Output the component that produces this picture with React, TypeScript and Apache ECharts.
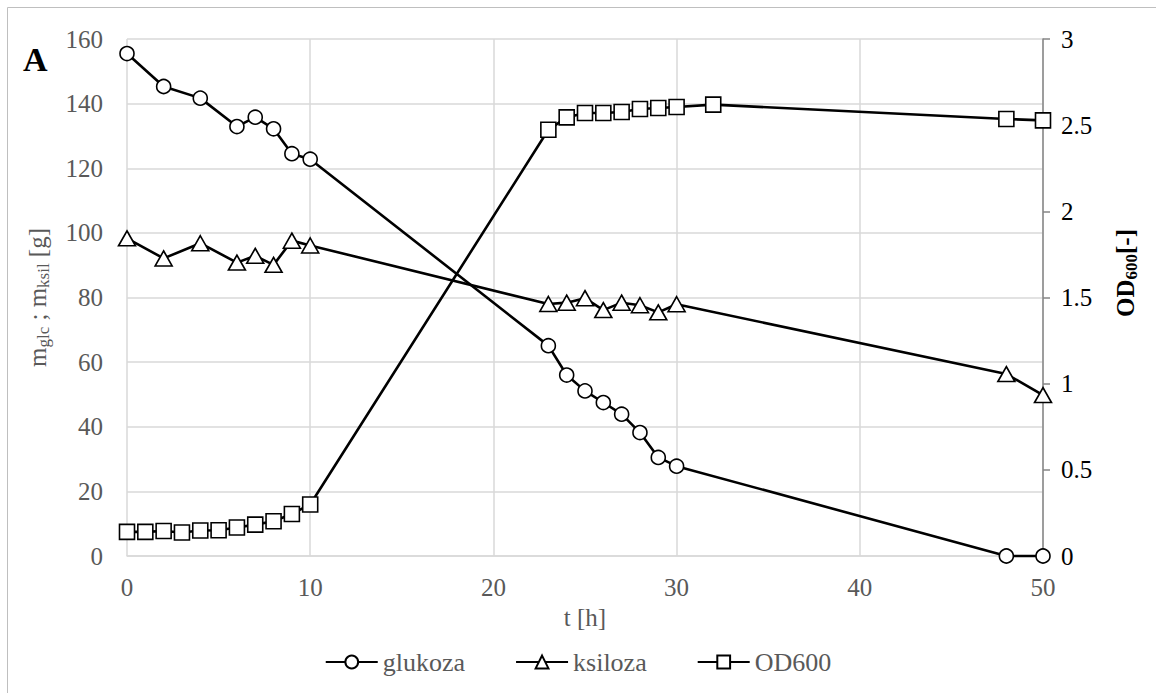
import React, { useEffect, useRef } from "react";
import * as echarts from "echarts";

const tSugar = [0, 2, 4, 6, 7, 8, 9, 10, 23, 24, 25, 26, 27, 28, 29, 30, 48, 50];
const glukoza = [155.5, 145.3, 141.7, 132.9, 135.8, 132.2, 124.5, 122.8, 65.1, 56.0, 51.1, 47.5, 43.9, 38.2, 30.5, 27.8, 0, 0];
const ksiloza = [98.3, 92.1, 96.8, 90.8, 92.9, 90.1, 97.6, 96.1, 78.0, 78.4, 79.8, 76.1, 78.4, 77.6, 75.4, 77.9, 56.3, 49.8];
const tOD = [0, 1, 2, 3, 4, 5, 6, 7, 8, 9, 10, 23, 24, 25, 26, 27, 28, 29, 30, 32, 48, 50];
const od600 = [0.14, 0.14, 0.145, 0.136, 0.148, 0.149, 0.165, 0.182, 0.202, 0.244, 0.299, 2.473, 2.545, 2.571, 2.571, 2.576, 2.594, 2.6, 2.605, 2.619, 2.536, 2.528];
const seriesNames = ["glukoza", "ksiloza", "OD600"];

const FONT = "'Liberation Serif', 'Times New Roman', serif";
const GRAY = "#595959";
const FS = 25;

export default function App() {
  const ref = useRef<HTMLDivElement>(null);
  useEffect(() => {
    if (!ref.current) return;
    const chart = echarts.init(ref.current, null, { renderer: "svg" });
    const pair = (xs: number[], ys: number[]) => xs.map((x, i) => [x, ys[i]]);
    const common = {
      type: "line",
      clip: false,
      lineStyle: { color: "#000", width: 2.6 },
      itemStyle: { color: "#fff", borderColor: "#000", borderWidth: 1.6 },
      emphasis: { disabled: true },
    };
    chart.setOption({
      animation: false,
      backgroundColor: "#fff",
      textStyle: { fontFamily: FONT },
      grid: { left: 127, right: 113, top: 39, bottom: 137, containLabel: false },
      legend: {
        top: 644,
        left: "center",
        itemWidth: 52,
        itemHeight: 16,
        itemGap: 50,
        textStyle: { color: GRAY, fontSize: 26, fontFamily: FONT },
        data: seriesNames,
      },
      xAxis: {
        type: "value",
        min: 0,
        max: 50,
        interval: 10,
        axisLine: { show: true, lineStyle: { color: "#d9d9d9", width: 1.5 } },
        axisTick: { show: false },
        splitLine: { show: true, lineStyle: { color: "#d9d9d9", width: 1.5 } },
        axisLabel: { color: GRAY, fontSize: FS, fontFamily: FONT, margin: 19 },
        name: "t [h]",
        nameLocation: "middle",
        nameGap: 34,
        nameTextStyle: { color: GRAY, fontSize: FS, fontFamily: FONT },
      },
      yAxis: [
        {
          type: "value",
          min: 0,
          max: 160,
          interval: 20,
          axisLine: { show: false },
          axisTick: { show: false },
          splitLine: { show: true, lineStyle: { color: "#d9d9d9", width: 1.5 } },
          axisLabel: { color: GRAY, fontSize: FS, fontFamily: FONT, margin: 24 },
          name: "{a|m}{s|glc}{a| ; m}{s|ksil}{a| [g]}",
          nameLocation: "middle",
          nameGap: 75,
          nameTextStyle: {
            color: GRAY,
            fontFamily: FONT,
            rich: {
              a: { fontSize: FS, lineHeight: 30, color: GRAY, fontFamily: FONT },
              s: { fontSize: 17, lineHeight: 17, verticalAlign: "bottom", color: GRAY, fontFamily: FONT },
            },
          },
        },
        {
          type: "value",
          position: "right",
          min: 0,
          max: 3,
          interval: 0.5,
          axisLine: { show: true, lineStyle: { color: "#868686", width: 1.5 } },
          axisTick: { show: true, inside: false, length: 7, lineStyle: { color: "#868686", width: 1.5 } },
          splitLine: { show: false },
          axisLabel: { color: "#000", fontSize: FS, fontFamily: FONT, margin: 18 },
        },
      ],
      graphic: [
        {
          type: "rect",
          shape: { x: 7.5, y: 7.5, width: 1300, height: 900 },
          style: { fill: "none", stroke: "#bfbfbf", lineWidth: 1 },
          silent: true,
        },
        {
          type: "text",
          left: 23,
          top: 42,
          style: { text: "A", font: `bold 34px ${FONT}`, fill: "#000" },
        },
        {
          type: "text",
          x: 1125,
          y: 273,
          rotation: Math.PI / 2,
          style: {
            text: "{a|OD}{s|600}{a|[-]}",
            align: "center",
            verticalAlign: "middle",
            fill: "#000",
            rich: {
              a: { fontSize: FS, lineHeight: 30, fontWeight: "bold", fill: "#000", fontFamily: FONT },
              s: { fontSize: 17, lineHeight: 17, verticalAlign: "bottom", fontWeight: "bold", fill: "#000", fontFamily: FONT },
            },
          },
        },
      ],
      series: [
        { ...common, name: seriesNames[0], yAxisIndex: 0, symbol: "circle", symbolSize: 14, data: pair(tSugar, glukoza) },
        { ...common, name: seriesNames[1], yAxisIndex: 0, symbol: "triangle", symbolSize: [17, 15], data: pair(tSugar, ksiloza) },
        { ...common, name: seriesNames[2], yAxisIndex: 1, symbol: "rect", symbolSize: 15, data: pair(tOD, od600) },
      ],
    });
    return () => chart.dispose();
  }, []);
  return <div ref={ref} style={{ position: "fixed", left: 0, top: 0, width: 1156, height: 693 }} />;
}
